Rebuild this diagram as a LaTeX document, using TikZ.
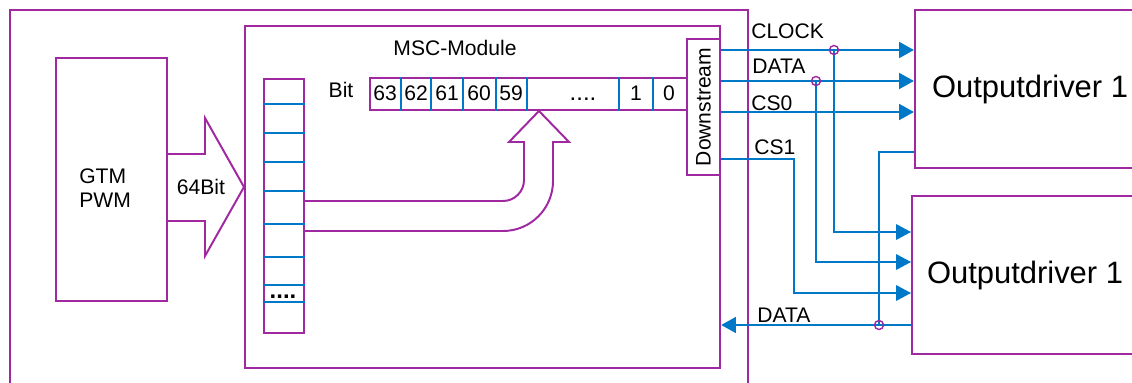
\documentclass[tikz,border=0pt]{standalone}
\usepackage{fontspec}
\setmainfont{Liberation Sans}
\usetikzlibrary{arrows.meta}
\definecolor{lila}{RGB}{160,40,160}
\definecolor{blau}{RGB}{0,120,200}

\begin{document}
\begin{tikzpicture}[x=0.025cm, y=-0.025cm,
	font=\fontsize{15}{17}\selectfont,
	kasten/.style={draw=lila, line width=1.4pt, inner sep=0pt, anchor=north west},
	lbl/.style={anchor=west, inner sep=0pt},
	pkt/.style={anchor=base, inner sep=0pt, font=\fontsize{17}{19}\selectfont\bfseries},
	teil/.style={blau, line width=0.8pt},
	dick/.style={blau, line width=2.1pt, -{Triangle[length=10.5pt, width=11pt]}},
	duenn/.style={blau, line width=0.8pt, -{Triangle[length=10.5pt, width=11pt]}},
	abzweig/.style={draw=lila, line width=1pt}]
	\useasboundingbox (0,0) rectangle (1132,382);
	\clip (0,0) rectangle (1132,382);
	\node[kasten, minimum width=18.45cm, minimum height=10cm] (aussen) at (9,9) {};
	\node[kasten, minimum width=11.875cm, minimum height=8.55cm] (msc) at (244,25) {};
	\node[inner sep=0pt] (msctxt) at (455,48) {MSC-Module};
	\node[kasten, minimum width=2.775cm, minimum height=6.075cm] (gtm) at (55,57) {};
	\node[lbl, align=left] (gtmtxt) at (79,188) {GTM\\PWM};
	\draw[lila, line width=1.4pt] (gtm.east |- 0,154) -- (205,154) -- (205,118) -- (msc.west |- 0,187) -- (205,256) -- (205,221) -- (gtm.east |- 0,221);
	\node[inner sep=0pt] (breite) at (201,187) {64Bit};
	\node[kasten, line width=1.1pt, minimum width=1cm, minimum height=6.35cm] (reg) at (263,78) {};
	\foreach \yd in {104,133,162,191,224,257,285,302}
		\draw[teil] (reg.west |- 0,\yd) -- (reg.east |- 0,\yd);
	\node[pkt] (regpkt) at (283,298) {....};
	\node[kasten, minimum width=7.925cm, minimum height=0.8cm] (bits) at (369,77) {};
	\node[inner sep=0pt] (bittxt) at (341,90) {Bit};
	\foreach \xd in {401,431,463,496,527,619,653}
		\draw[teil] (bits.north -| \xd,0) -- (bits.south -| \xd,0);
	\foreach \xc/\nr in {385/63,416/62,447/61,479/60,511/59,636/1,669/0}
		\node[anchor=base] at (\xc,100) {\nr};
	\node[pkt, font=\fontsize{17}{19}\selectfont] (bitpkt) at (583,100) {....};
	\draw[lila, line width=1.4pt] (reg.east |- 0,201) -- (503,201) arc[start angle=90, end angle=0, radius=21] -- (524,142) -- (509,142) -- (539,111) -- (569,142) -- (553,142) -- (553,181) arc[start angle=0, end angle=90, radius=50] -- (reg.east |- 0,231);
	\node[kasten, minimum width=0.825cm, minimum height=3.4cm] (ds) at (686,38) {};
	\node[rotate=90, inner sep=0pt] (dstxt) at (ds.center) {Downstream};
	\node[kasten, minimum width=5.75cm, minimum height=3.95cm, font=\fontsize{22}{26}\selectfont] (trA) at (914,9) {Outputdriver 1};
	\node[kasten, minimum width=5.65cm, minimum height=3.95cm, font=\fontsize{22}{26}\selectfont] (trB) at (911,195) {Outputdriver 1};
	\coordinate (clk) at (834,50);
	\coordinate (dat) at (816,81);
	\coordinate (cs0) at (ds.east |- 0,112);
	\coordinate (cs1) at (794,159);
	\coordinate (rkA) at (879,152);
	\coordinate (rk) at (879,325);
	\draw[dick] (ds.east |- clk) -- (trA.west |- clk);
	\draw[dick] (ds.east |- dat) -- (trA.west |- dat);
	\draw[dick] (cs0) -- (trA.west |- cs0);
	\draw[duenn] (clk) -- (clk |- 0,232) -- (trB.west |- 0,232);
	\draw[duenn] (dat) -- (dat |- 0,262) -- (trB.west |- 0,262);
	\draw[duenn] (ds.east |- cs1) -- (cs1) -- (cs1 |- 0,293) -- (trB.west |- 0,293);
	\draw[teil] (trA.west |- rkA) -- (rkA) -- (rk);
	\draw[dick] (trB.west |- rk) -- (msc.east |- rk);
	\draw[abzweig] (clk) circle (4.5);
	\draw[abzweig] (dat) circle (4.5);
	\draw[abzweig] (rk) circle (4.5);
	\node[lbl] (lclk) at (751,31) {CLOCK};
	\node[lbl] (ldat) at (752,66) {DATA};
	\node[lbl] (lcs0) at (751,103) {CS0};
	\node[lbl] (lcs1) at (754,147) {CS1};
	\node[lbl] (lrk) at (757,315) {DATA};
\end{tikzpicture}
\end{document}
